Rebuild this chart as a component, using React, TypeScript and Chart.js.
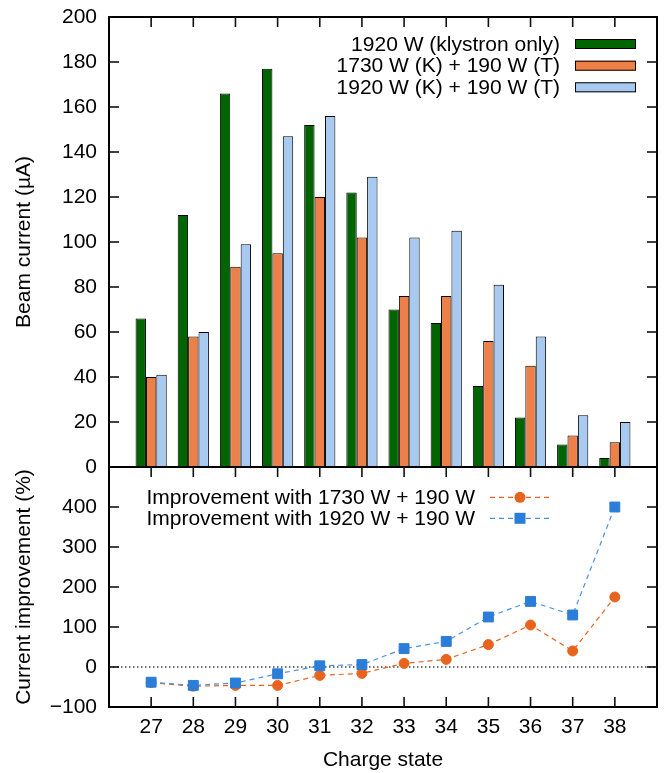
import React, { useEffect, useRef } from 'react';
import { Chart, registerables } from 'chart.js';

Chart.register(...registerables);

const chargeStates = [27, 28, 29, 30, 31, 32, 33, 34, 35, 36, 37, 38];
const klystronOnly = [66, 112, 166, 177, 152, 122, 70, 64, 36, 22, 10, 4];
const k1730t190 = [40, 58, 89, 95, 120, 102, 76, 76, 56, 45, 14, 11];
const k1920t190 = [41, 60, 99, 147, 156, 129, 102, 105, 81, 58, 23, 20];
const improve1730 = [-39, -48, -46, -46, -21, -16, 9, 19, 56, 105, 40, 175];
const improve1920 = [-38, -46, -40, -17, 3, 6, 46, 64, 125, 164, 130, 400];

const barLabels = ['1920 W (klystron only)', '1730 W (K) + 190 W (T)', '1920 W (K) + 190 W (T)'];
const lineLabels = ['Improvement with 1730 W + 190 W', 'Improvement with 1920 W + 190 W'];

const GREEN = '#006400';
const ORANGE_BAR = '#ED8048';
const BLUE_BAR = '#A9CAF0';
const ORANGE_LINE = '#E8641E';
const BLUE_LINE = '#2A7DD8';
const BLUE_DASH = '#4A90E2';

const FONT_FAMILY = "'Liberation Sans', Arial, Helvetica, sans-serif";
const FONT_SIZE = 21;
const FONT = { family: FONT_FAMILY, size: FONT_SIZE };

const pts = (vals: number[]) => chargeStates.map((c, i) => ({ x: c, y: vals[i] }));

const fmt = (v: number) => (v < 0 ? '\u2212' + String(-v) : String(v));

const zeroPad = (s: any) => {
  s.paddingTop = 0;
  s.paddingBottom = 0;
  s.paddingLeft = 0;
  s.paddingRight = 0;
};

const framePlugin = {
  id: 'frame',
  beforeDatasetsDraw(chart: any) {
    const { ctx, chartArea } = chart;
    const yb = chart.scales.yBot;
    const y0 = yb.getPixelForValue(0);
    ctx.save();
    ctx.setLineDash([1.5, 2.5]);
    ctx.strokeStyle = '#444';
    ctx.lineWidth = 1.5;
    ctx.beginPath();
    ctx.moveTo(chartArea.left, y0);
    ctx.lineTo(chartArea.right, y0);
    ctx.stroke();
    ctx.restore();
  },
  afterDraw(chart: any) {
    const ctx: CanvasRenderingContext2D = chart.ctx;
    const area = chart.chartArea;
    const xs = chart.scales.x;
    const yt = chart.scales.yTop;
    const yb = chart.scales.yBot;
    const L = area.left;
    const R = area.right;
    const TL = 10;
    ctx.save();
    ctx.setLineDash([]);
    // frame
    ctx.strokeStyle = '#000';
    ctx.lineWidth = 2;
    ctx.strokeRect(L, yt.top, R - L, yb.bottom - yt.top);
    ctx.beginPath();
    ctx.moveTo(L, yt.bottom);
    ctx.lineTo(R, yt.bottom);
    ctx.stroke();

    // inward ticks on all sides
    const seg = (x1: number, y1: number, x2: number, y2: number) => {
      ctx.beginPath();
      ctx.moveTo(x1, y1);
      ctx.lineTo(x2, y2);
      ctx.stroke();
    };
    ctx.strokeStyle = '#111';
    ctx.lineWidth = 1.6;
    for (let i = 0; i < chargeStates.length; i++) {
      const x = xs.getPixelForValue(chargeStates[i]);
      seg(x, yt.top, x, yt.top + TL);
      seg(x, yb.top, x, yb.top + TL);
      seg(x, yb.bottom, x, yb.bottom - TL);
    }
    const scaleTicks = (sc: any) => {
      const list: number[] = (sc.ticks || []).map((t: any) => t.value);
      for (let i = 0; i < list.length; i++) {
        const v = list[i];
        if (v <= sc.min || v >= sc.max) continue;
        const y = sc.getPixelForValue(v);
        seg(L, y, L + TL, y);
        seg(R, y, R - TL, y);
      }
    };
    scaleTicks(yt);
    scaleTicks(yb);

    // top legend
    ctx.font = `${FONT_SIZE}px ${FONT_FAMILY}`;
    ctx.textAlign = 'right';
    ctx.textBaseline = 'middle';
    const ds = chart.data.datasets;
    const topRows = [44, 65.7, 87.3];
    [0, 1, 2].forEach((i) => {
      const y = topRows[i];
      ctx.fillStyle = '#000';
      ctx.fillText(ds[i].label, 560, y + 1);
      ctx.fillStyle = ds[i].backgroundColor;
      ctx.fillRect(575, y - 5, 61, 10);
      ctx.strokeStyle = '#000';
      ctx.lineWidth = 1;
      ctx.strokeRect(575.5, y - 4.5, 60, 9);
    });

    // bottom legend
    const botRows = [497.3, 518.3];
    [3, 4].forEach((i, k) => {
      const y = botRows[k];
      const d = ds[i];
      ctx.fillStyle = '#000';
      ctx.fillText(d.label, 475, y + 1);
      ctx.save();
      ctx.setLineDash([5, 4]);
      ctx.strokeStyle = d.borderColor;
      ctx.lineWidth = 1.2;
      ctx.beginPath();
      ctx.moveTo(490, y);
      ctx.lineTo(550, y);
      ctx.stroke();
      ctx.restore();
      ctx.fillStyle = d.pointBackgroundColor;
      if (d.pointStyle === 'circle') {
        ctx.beginPath();
        ctx.arc(520, y, 5.5, 0, Math.PI * 2);
        ctx.fill();
      } else {
        ctx.fillRect(520 - 5.5, y - 5.5, 11, 11);
      }
    });
    ctx.restore();
  },
};

export default function App() {
  const ref = useRef<HTMLCanvasElement>(null);
  useEffect(() => {
    const canvas = ref.current;
    if (!canvas) return;
    const barBase = {
      borderColor: '#000',
      borderWidth: 1,
      yAxisID: 'yTop',
      categoryPercentage: 0.74,
      barPercentage: 1,
      order: 3,
    };
    const chart = new Chart(canvas, {
      type: 'bar',
      data: {
        datasets: [
          { ...barBase, label: barLabels[0], data: pts(klystronOnly), backgroundColor: GREEN },
          { ...barBase, label: barLabels[1], data: pts(k1730t190), backgroundColor: ORANGE_BAR },
          { ...barBase, label: barLabels[2], data: pts(k1920t190), backgroundColor: BLUE_BAR },
          {
            type: 'line',
            label: lineLabels[0],
            data: pts(improve1730),
            borderColor: ORANGE_LINE,
            borderWidth: 1.2,
            borderDash: [5, 4],
            pointStyle: 'circle',
            pointRadius: 5,
            pointBorderWidth: 1,
            pointBackgroundColor: ORANGE_LINE,
            pointBorderColor: ORANGE_LINE,
            yAxisID: 'yBot',
            order: 2,
          },
          {
            type: 'line',
            label: lineLabels[1],
            data: pts(improve1920),
            borderColor: BLUE_DASH,
            borderWidth: 1.2,
            borderDash: [5, 4],
            pointStyle: 'rect',
            pointRadius: 7,
            pointBorderWidth: 1,
            pointBackgroundColor: BLUE_LINE,
            pointBorderColor: BLUE_LINE,
            yAxisID: 'yBot',
            order: 1,
          },
        ] as any,
      },
      options: {
        responsive: false,
        animation: false,
        devicePixelRatio: 1,
        layout: { padding: { top: 17, right: 4, left: 0, bottom: 0 } },
        plugins: { legend: { display: false }, tooltip: { enabled: false } },
        scales: {
          x: {
            type: 'linear',
            min: 26,
            max: 39,
            offset: false,
            grid: { display: false, drawTicks: false },
            border: { display: false },
            ticks: {
              stepSize: 1,
              autoSkip: false,
              maxRotation: 0,
              padding: 8,
              color: '#000',
              font: FONT,
              callback: (v: any) => (chargeStates.includes(Number(v)) ? String(v) : ''),
            },
            title: { display: true, text: 'Charge state', color: '#000', font: FONT, padding: { top: 0, bottom: 0.5 } },
            afterFit: (s: any) => {
              s.height = 66;
              zeroPad(s);
            },
          },
          yBot: {
            type: 'linear',
            position: 'left',
            stack: 'panels',
            stackWeight: 240,
            min: -100,
            max: 500,
            grid: { display: false, drawTicks: false },
            border: { display: false },
            ticks: {
              stepSize: 100,
              autoSkip: false,
              padding: 12,
              color: '#000',
              font: FONT,
              callback: (v: any) => (Number(v) >= 500 ? '' : fmt(Number(v))),
            },
            title: { display: true, text: 'Current improvement (%)', color: '#000', font: FONT, padding: { top: 11.5, bottom: 0 } },
            afterFit: (s: any) => {
              s.width = 109;
              zeroPad(s);
            },
          },
          yTop: {
            type: 'linear',
            position: 'left',
            stack: 'panels',
            stackWeight: 450,
            min: 0,
            max: 200,
            grid: { display: false, drawTicks: false },
            border: { display: false },
            ticks: {
              stepSize: 20,
              autoSkip: false,
              padding: 12,
              color: '#000',
              font: FONT,
              callback: (v: any) => fmt(Number(v)),
            },
            title: { display: true, text: 'Beam current (\u00B5A)', color: '#000', font: FONT, padding: { top: 11.5, bottom: 0 } },
            afterFit: (s: any) => {
              s.width = 109;
              zeroPad(s);
            },
          },
        } as any,
      },
      plugins: [framePlugin as any],
    });
    return () => chart.destroy();
  }, []);
  return (
    <div style={{ position: 'absolute', left: 0, top: 0, width: 665, height: 773, background: '#fff' }}>
      <canvas ref={ref} width={665} height={773} style={{ width: 665, height: 773, display: 'block' }} />
    </div>
  );
}
